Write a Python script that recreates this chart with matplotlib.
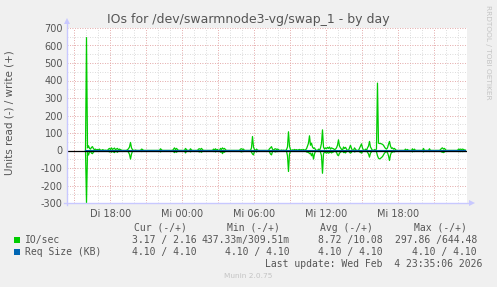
import matplotlib
matplotlib.use("Agg")
import matplotlib.pyplot as plt
import numpy as np
from matplotlib.patches import Polygon, Rectangle

FIG_W, FIG_H = 497, 287

# 5-minute samples starting Di 15:55, one row per hour
START_HOUR = 15 + 55 / 60
STEP_HOURS = 5 / 60

io_write = [
    0, 645, 15, 27, 12, 8, 18, 22, 10, 5, 8, 3,
    6, 3, 8, 2, 0, 5, 3, 0, 2, 0, 0, 8,
    12, 5, 15, 6, 10, 14, 4, 9, 12, 3, 8, 5,
    2, 0, 0, 0, 0, 0, 5, 10, 20, 46, 15, 5,
    0, 0, 3, 0, 0, 0, 0, 0, 8, 6, 0, 0,
    0, 0, 0, 0, 0, 0, 0, 0, 0, 0, 0, 0,
    0, 0, 0, 10, 4, 0, 0, 0, 0, 0, 0, 0,
    0, 0, 0, 0, 8, 15, 5, 12, 6, 0, 0, 0,
    0, 0, 0, 0, 12, 5, 0, 0, 0, 10, 3, 0,
    0, 0, 0, 0, 0, 8, 10, 6, 12, 5, 0, 0,
    0, 0, 0, 0, 0, 0, 0, 0, 8, 3, 10, 2,
    6, 0, 0, 12, 6, 15, 8, 12, 5, 0, 0, 0,
    0, 0, 0, 0, 0, 0, 0, 0, 0, 0, 0, 8,
    10, 6, 8, 0, 0, 0, 0, 0, 0, 0, 15, 80,
    20, 5, 0, 8, 3, 0, 0, 0, 0, 0, 0, 0,
    0, 0, 0, 0, 10, 15, 22, 8, 0, 8, 10, 6,
    8, 5, 0, 0, 3, 0, 2, 0, 0, 5, 20, 107,
    25, 5, 0, 4, 2, 6, 3, 5, 2, 4, 6, 3,
    5, 3, 6, 2, 4, 10, 25, 42, 84, 30, 42, 20,
    12, 15, 5, 0, 0, 8, 0, 15, 40, 118, 20, 8,
    15, 10, 18, 12, 20, 8, 15, 12, 10, 5, 8, 15,
    30, 61, 25, 15, 8, 0, 20, 12, 18, 8, 0, 0,
    15, 30, 12, 0, 0, 15, 8, 0, 0, 0, 12, 25,
    38, 15, 0, 0, 8, 0, 15, 25, 52, 20, 10, 0,
    0, 5, 0, 10, 385, 42, 40, 40, 38, 35, 30, 20,
    12, 8, 15, 35, 52, 25, 12, 15, 8, 12, 5, 0,
    0, 0, 0, 0, 0, 0, 0, 0, 8, 0, 6, 0,
    0, 0, 0, 10, 0, 8, 0, 0, 0, 0, 0, 0,
    0, 0, 12, 0, 0, 0, 0, 0, 10, 0, 0, 0,
    0, 0, 0, 0, 0, 0, 0, 5, 12, 15, 8, 12,
    5, 0, 0, 0, 0, 0, 0, 0, 0, 0, 0, 0,
    0, 8, 6, 8, 5, 8, 6, 3, 2.16,
]

io_read = [
    0, 298, 10, 26, 8, 5, 15, 18, 8, 5, 3, 2,
    4, 2, 5, 2, 0, 3, 2, 0, 1, 0, 0, 5,
    8, 3, 10, 4, 8, 12, 3, 6, 10, 2, 5, 3,
    1, 0, 0, 0, 0, 0, 3, 10, 22, 49, 20, 4,
    0, 0, 2, 0, 0, 0, 0, 0, 6, 4, 0, 0,
    0, 0, 0, 0, 0, 0, 0, 0, 0, 0, 0, 0,
    0, 0, 0, 8, 3, 0, 0, 0, 0, 0, 0, 0,
    0, 0, 0, 0, 6, 12, 4, 10, 5, 0, 0, 0,
    0, 0, 0, 0, 14, 4, 0, 0, 0, 8, 2, 0,
    0, 0, 0, 0, 0, 6, 8, 5, 10, 4, 0, 0,
    0, 0, 0, 0, 0, 0, 0, 0, 6, 2, 8, 2,
    5, 0, 0, 10, 5, 18, 6, 10, 4, 0, 0, 0,
    0, 0, 0, 0, 0, 0, 0, 0, 0, 0, 0, 6,
    8, 5, 6, 0, 0, 0, 0, 0, 0, 0, 10, 20,
    25, 4, 0, 8, 2, 0, 0, 0, 0, 0, 0, 0,
    0, 0, 0, 0, 8, 20, 25, 6, 0, 6, 8, 5,
    6, 4, 0, 0, 2, 0, 1, 0, 0, 4, 30, 120,
    20, 4, 0, 3, 2, 5, 3, 4, 2, 3, 5, 2,
    4, 2, 5, 2, 3, 8, 10, 10, 18, 15, 30, 15,
    49, 20, 4, 0, 0, 6, 0, 10, 30, 130, 20, 6,
    12, 15, 10, 15, 12, 8, 14, 10, 8, 4, 6, 10,
    25, 30, 15, 10, 6, 0, 12, 10, 14, 6, 0, 0,
    10, 15, 10, 0, 0, 8, 6, 0, 0, 0, 8, 10,
    15, 8, 0, 0, 6, 0, 10, 20, 38, 15, 8, 0,
    0, 4, 0, 8, 30, 44, 48, 45, 40, 35, 25, 15,
    10, 6, 12, 30, 57, 25, 10, 10, 6, 8, 4, 0,
    0, 0, 0, 0, 0, 0, 0, 0, 5, 0, 5, 0,
    0, 0, 0, 8, 0, 6, 0, 0, 0, 0, 0, 0,
    0, 0, 8, 0, 0, 0, 0, 0, 6, 0, 0, 0,
    0, 0, 0, 0, 0, 0, 0, 4, 8, 10, 12, 8,
    4, 0, 0, 0, 0, 0, 0, 0, 0, 0, 0, 0,
    0, 6, 5, 6, 4, 6, 5, 3, 3.17,
]

req_size_write = 4.10
req_size_read = 4.10

x_tick_hours = [18, 24, 30, 36, 42]
x_tick_labels = ["Di 18:00", "Mi 00:00", "Mi 06:00", "Mi 12:00", "Mi 18:00"]
y_ticks = [-300, -200, -100, 0, 100, 200, 300, 400, 500, 600, 700]

legend_names = ["IO/sec", "Req Size (KB)"]
legend_colors = ["#00CC00", "#0066B3"]
legend_columns = ["Cur (-/+)", "Min (-/+)", "Avg (-/+)", "Max (-/+)"]
legend_values = [
    ["3.17 / 2.16", "437.33m/309.51m", "8.72 /10.08", "297.86 /644.48"],
    ["4.10 / 4.10", "4.10 / 4.10", "4.10 / 4.10", "4.10 / 4.10"],
]

BG = "#F0F0F0"
TEXT = "#555555"
AXIS = "#C8C8FF"


def fx(px):
    return px / FIG_W


def fy(py):
    return 1 - py / FIG_H


fig = plt.figure(figsize=(FIG_W / 100, FIG_H / 100), dpi=100, facecolor=BG)
ax = fig.add_axes([fx(67), fy(203), 400 / FIG_W, 175 / FIG_H])
ax.set_facecolor("white")

hours = START_HOUR + STEP_HOURS * np.arange(len(io_write))
write = np.array(io_write, dtype=float)
read = -np.array(io_read, dtype=float)

ax.set_xlim(14.375, 47.71)
ax.set_ylim(-300, 700)

# grid: hourly / 50 minor in grey, 3-hourly / 100 major in red
for h in np.arange(15, 48, 1):
    ax.axvline(h, color="#D0D0D0", lw=0.6, ls=(0, (1, 2)), zorder=1)
for v in np.arange(-250, 701, 50):
    ax.axhline(v, color="#D0D0D0", lw=0.6, ls=(0, (1, 2)), zorder=1)
for h in np.arange(15, 48, 3):
    ax.axvline(h, color="#EEA0A0", lw=0.6, ls=(0, (1, 2)), zorder=1.1)
for v in y_ticks:
    ax.axhline(v, color="#EEA0A0", lw=0.6, ls=(0, (1, 2)), zorder=1.1)

ax.plot(hours, write, color="#00CC00", lw=0.9, zorder=3)
ax.plot(hours, read, color="#00CC00", lw=0.9, zorder=3)
ax.plot(hours, np.full(len(hours), req_size_write), color="#0066B3", lw=0.8, zorder=4)
ax.plot(hours, np.full(len(hours), -req_size_read), color="#0066B3", lw=0.8, zorder=4)
ax.axhline(0, color="black", lw=0.9, zorder=5)

for side in ["top", "right", "left", "bottom"]:
    ax.spines[side].set_visible(False)

ax.set_xticks(x_tick_hours)
ax.set_xticklabels(x_tick_labels)
ax.set_yticks(y_ticks)
ax.set_yticklabels([str(v) for v in y_ticks])
ax.tick_params(axis="both", length=0, labelsize=7, labelcolor=TEXT, pad=3)
ax.tick_params(axis="x", pad=4)

# axis lines with arrow heads
fig.add_artist(plt.Line2D([fx(67), fx(67)], [fy(205), fy(24)], color=AXIS, lw=1))
fig.add_artist(plt.Line2D([fx(64), fx(469)], [fy(203), fy(203)], color=AXIS, lw=1))
fig.add_artist(Polygon([[fx(64), fy(24)], [fx(70), fy(24)], [fx(67), fy(18)]],
                       closed=True, color=AXIS, lw=0))
fig.add_artist(Polygon([[fx(469), fy(200)], [fx(469), fy(206)], [fx(475), fy(203)]],
                       closed=True, color=AXIS, lw=0))

fig.text(fx(248), fy(19), "IOs for /dev/swarmnode3-vg/swap_1 - by day",
         ha="center", va="center", fontsize=9, color=TEXT)
fig.text(fx(10), fy(113), "Units read (-) / write (+)", rotation=90,
         ha="center", va="center", fontsize=7.5, color=TEXT)
fig.text(fx(488), fy(5), "RRDTOOL / TOBI OETIKER", rotation=270,
         ha="center", va="top", fontsize=5.3, color="#C4C4C4")

mono = dict(family="DejaVu Sans Mono", fontsize=7, color=TEXT, va="center")
col_right = [197, 290, 383, 477]
for right, label in zip(col_right, legend_columns):
    fig.text(fx(right - 10), fy(228), label, ha="right", **mono)
for row, (name, color, values) in enumerate(zip(legend_names, legend_colors, legend_values)):
    y = 240 + row * 12
    fig.add_artist(Rectangle((fx(14), fy(y + 3)), 6 / FIG_W, 6 / FIG_H, color=color, lw=0))
    fig.text(fx(25), fy(y), name, ha="left", **mono)
    for right, val in zip(col_right, values):
        fig.text(fx(right), fy(y), val, ha="right", **mono)
fig.text(fx(482), fy(264), "Last update: Wed Feb  4 23:35:06 2026", ha="right", **mono)
fig.text(fx(248), fy(276), "Munin 2.0.75", ha="center", va="center",
         fontsize=5.3, color="#C4C4C4")

fig.savefig("out.png", dpi=100, facecolor=BG)
